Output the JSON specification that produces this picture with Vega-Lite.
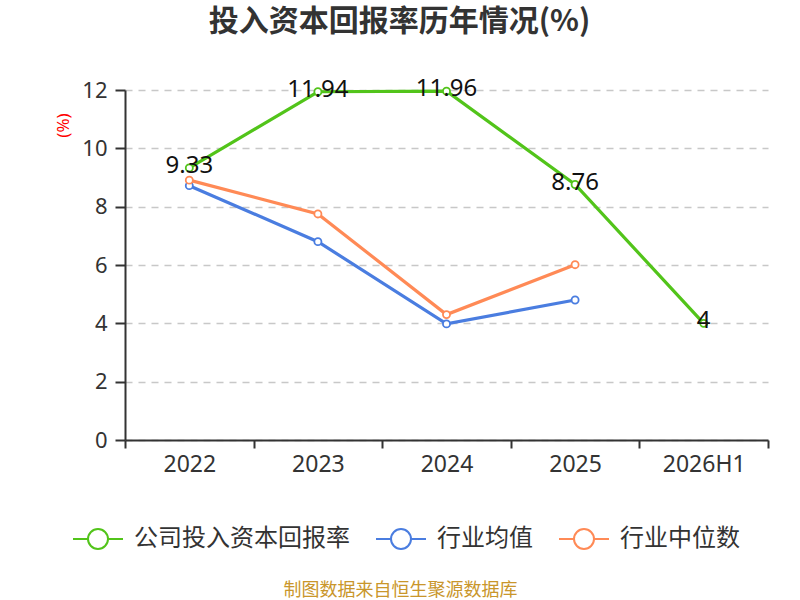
{
  "$schema": "https://vega.github.io/schema/vega-lite/v6.json",
  "autosize": {"type": "none"},
  "width": 643,
  "height": 350,
  "padding": {"left": 125, "top": 90, "right": 32, "bottom": 160},
  "background": "white",
  "config": {
    "view": {"stroke": null},
    "font": "Noto Sans CJK SC"
  },
  "title": {
    "text": "投入资本回报率历年情况(%)",
    "anchor": "middle",
    "dx": -47,
    "offset": 40,
    "fontSize": 30,
    "fontWeight": "bold",
    "color": "#333333",
    "font": "Noto Sans CJK SC"
  },
  "data": {
    "values": [
      {"year": "2022", "series": "公司投入资本回报率", "value": 9.33},
      {"year": "2023", "series": "公司投入资本回报率", "value": 11.94},
      {"year": "2024", "series": "公司投入资本回报率", "value": 11.96},
      {"year": "2025", "series": "公司投入资本回报率", "value": 8.76},
      {"year": "2026H1", "series": "公司投入资本回报率", "value": 4},
      {"year": "2022", "series": "行业均值", "value": 8.72},
      {"year": "2023", "series": "行业均值", "value": 6.8},
      {"year": "2024", "series": "行业均值", "value": 3.98},
      {"year": "2025", "series": "行业均值", "value": 4.8},
      {"year": "2022", "series": "行业中位数", "value": 8.91},
      {"year": "2023", "series": "行业中位数", "value": 7.75},
      {"year": "2024", "series": "行业中位数", "value": 4.3},
      {"year": "2025", "series": "行业中位数", "value": 6.01}
    ]
  },
  "encoding": {
    "x": {
      "field": "year",
      "type": "nominal",
      "sort": ["2022", "2023", "2024", "2025", "2026H1"],
      "scale": {"type": "band", "domain": ["2022", "2023", "2024", "2025", "2026H1"], "paddingInner": 0, "paddingOuter": 0},
      "axis": {
        "title": "制图数据来自恒生聚源数据库",
        "titleColor": "#c9962b",
        "titleFontSize": 18,
        "titleFontWeight": "normal",
        "titleFont": "Noto Sans CJK SC",
        "titleX": 275,
        "titleY": 150,
        "titleAlign": "center",
        "titleBaseline": "middle",
        "labelAngle": 0,
        "labelFontSize": 23,
        "labelColor": "#333333",
        "labelFont": "Noto Sans",
        "labelPadding": 5,
        "tickBand": "extent",
        "tickSize": 8,
        "tickColor": "#333333",
        "domainColor": "#333333",
        "domainWidth": 2,
        "tickWidth": 2,
        "grid": false
      }
    },
    "y": {
      "field": "value",
      "type": "quantitative",
      "scale": {"domain": [0, 12], "nice": false, "zero": true},
      "axis": {
        "values": [0, 2, 4, 6, 8, 10, 12],
        "title": "(%)",
        "titleColor": "#ff0000",
        "titleFontSize": 17,
        "titleFontWeight": "normal",
        "titleFont": "Noto Sans",
        "titleX": -62,
        "titleY": 35,
        "titleAngle": -90,
        "titleAlign": "center",
        "titleBaseline": "middle",
        "labelFontSize": 22,
        "labelColor": "#333333",
        "labelFont": "Noto Sans",
        "labelPadding": 8,
        "tickSize": 10,
        "tickColor": "#333333",
        "tickWidth": 2,
        "domainColor": "#333333",
        "domainWidth": 2,
        "grid": true,
        "gridDash": [7, 6],
        "gridColor": "#c8c8c8",
        "gridWidth": 1.5
      }
    }
  },
  "layer": [
    {
      "mark": {
        "type": "line",
        "strokeWidth": 3.2,
        "point": {"filled": false, "fill": "white", "size": 50, "strokeWidth": 1.8}
      },
      "encoding": {
        "color": {
          "field": "series",
          "type": "nominal",
          "scale": {
            "domain": ["公司投入资本回报率", "行业均值", "行业中位数"],
            "range": ["#52c41a", "#4a7de0", "#ff8a56"]
          },
          "legend": {
            "title": null,
            "orient": "none",
            "direction": "horizontal",
            "legendX": -53,
            "legendY": 423,
            "symbolType": "M-1,0H-0.4M0.4,0H1M-0.4,0A0.4,0.4,0,1,1,0.4,0A0.4,0.4,0,1,1,-0.4,0",
            "symbolSize": 2500,
            "symbolStrokeWidth": 2,
            "symbolFillColor": "white",
            "labelFontSize": 24,
            "labelColor": "#333333",
            "labelFont": "Noto Sans CJK SC",
            "labelOffset": 10,
            "columnPadding": 22,
            "labelLimit": 400
          }
        }
      }
    },
    {
      "transform": [{"filter": "datum.series === '公司投入资本回报率'"}],
      "mark": {
        "type": "text",
        "fontSize": 24,
        "font": "Noto Sans",
        "color": "#111111",
        "baseline": "middle",
        "dy": -2
      },
      "encoding": {
        "text": {"field": "value", "type": "quantitative"}
      }
    }
  ]
}
